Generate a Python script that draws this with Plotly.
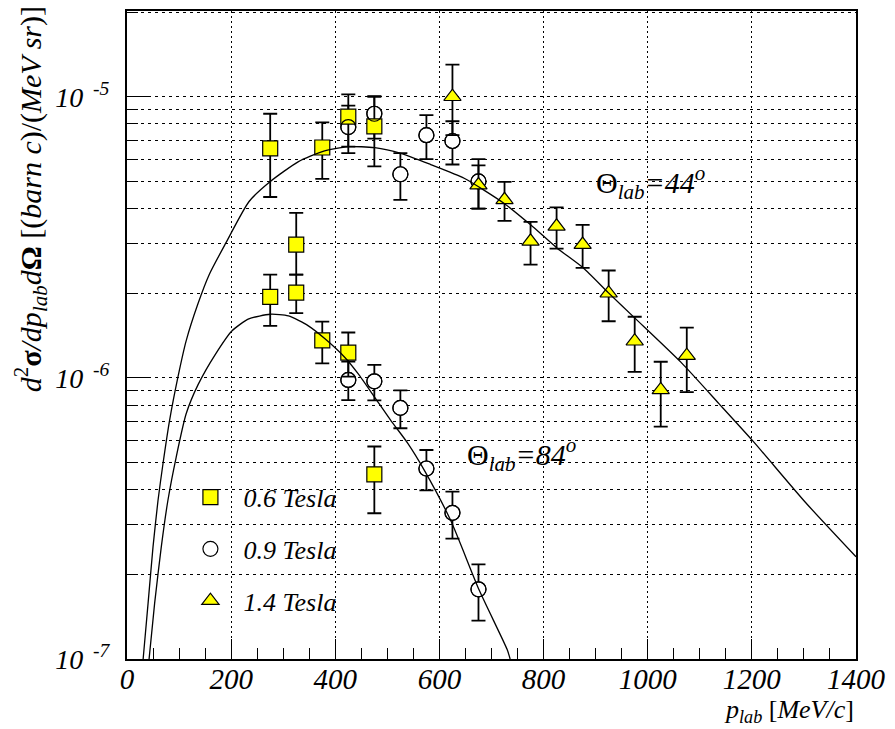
import plotly.graph_objects as go

# ---- measurements: momentum (MeV/c), cross section, errors (up / down) ----
p_06 = [275, 375, 425, 475, 275, 325, 325, 375, 425, 475]
xs_06 = [6.55e-6, 6.6e-6, 8.5e-6, 7.85e-6, 1.94e-6, 2.98e-6, 2.01e-6, 1.36e-6, 1.23e-6, 4.54e-7]
up_06 = [2.15e-6, 1.5e-6, 1.7e-6, 2.15e-6, 0.39e-6, 0.88e-6, 0.32e-6, 0.225e-6, 0.22e-6, 1.16e-7]
dn_06 = [2.15e-6, 1.5e-6, 1.85e-6, 2.2e-6, 0.41e-6, 0.65e-6, 0.31e-6, 0.234e-6, 0.22e-6, 1.24e-7]

p_09 = [425, 475, 525, 575, 625, 675, 425, 475, 525, 575, 625, 675]
xs_09 = [7.8e-6, 8.7e-6, 5.3e-6, 7.3e-6, 6.96e-6, 5.0e-6,
         9.83e-7, 9.72e-7, 7.82e-7, 4.76e-7, 3.31e-7, 1.77e-7]
up_09 = [1.5e-6, 1.35e-6, 1.0e-6, 1.3e-6, 1.22e-6, 1.0e-6,
         1.6e-7, 1.4e-7, 1.2e-7, 7.8e-8, 6.3e-8, 4.0e-8]
dn_09 = [1.5e-6, 1.6e-6, 1.0e-6, 1.3e-6, 1.22e-6, 1.0e-6,
         1.5e-7, 1.4e-7, 1.2e-7, 7.8e-8, 6.3e-8, 4.0e-8]

p_14 = [625, 675, 725, 775, 825, 875, 925, 975, 1025, 1075]
xs_14 = [1.0e-5, 4.85e-6, 4.3e-6, 3.06e-6, 3.46e-6, 2.98e-6, 2.0e-6, 1.35e-6, 9.06e-7, 1.2e-6]
up_14 = [3.0e-6, 0.85e-6, 0.68e-6, 0.53e-6, 0.58e-6, 0.52e-6, 0.41e-6, 0.3e-6, 0.235e-6, 0.31e-6]
dn_14 = [2.7e-6, 0.85e-6, 0.68e-6, 0.53e-6, 0.58e-6, 0.52e-6, 0.41e-6, 0.3e-6, 0.235e-6, 0.31e-6]

# ---- model curves ----
p_44 = [31, 40.5, 50, 59.6, 69.1, 81.7, 97.7, 113.6, 135.9, 158, 189.9, 234.4, 275.2,
        329.3, 375.1, 424.7, 475.7, 525.9, 583.1, 647.5, 723.8, 774.6, 825.5, 876.5,
        924.2, 974.4, 1064.1, 1136.7, 1201, 1302.7, 1400]
xs_44 = [1.0e-7, 1.58e-7, 2.51e-7, 3.67e-7, 4.95e-7, 7.05e-7, 1.004e-6, 1.354e-6, 1.827e-6,
         2.333e-6, 3.02e-6, 4.24e-6, 4.995e-6, 5.88e-6, 6.38e-6, 6.645e-6, 6.59e-6, 6.29e-6,
         5.74e-6, 5.13e-6, 4.18e-6, 3.51e-6, 2.90e-6, 2.46e-6, 2.01e-6, 1.638e-6, 1.135e-6,
         8.1e-7, 5.99e-7, 3.61e-7, 2.31e-7]

p_84 = [42.4, 53.1, 65.9, 78.6, 94.5, 113.6, 136.5, 170.3, 201.4, 233.8, 275.2, 310.1,
        348.3, 380.2, 418.4, 443.8, 475.7, 506.8, 539.3, 571.1, 621.3, 676.1, 730.1, 735.8]
xs_84 = [1.0e-7, 1.58e-7, 2.51e-7, 3.67e-7, 5.23e-7, 7.45e-7, 9.46e-7, 1.218e-6, 1.469e-6,
         1.621e-6, 1.684e-6, 1.661e-6, 1.531e-6, 1.377e-6, 1.182e-6, 1.035e-6, 8.53e-7,
         7.05e-7, 5.85e-7, 4.69e-7, 3.12e-7, 1.762e-7, 1.08e-7, 1.0e-7]

y_major = [1e-7, 1e-6, 1e-5]
y_major_text = ["10<sup>\u00a0\u00a0-7</sup>", "10<sup>\u00a0\u00a0-6</sup>", "10<sup>\u00a0\u00a0-5</sup>"]
y_minor = [m * 10.0 ** e for e in (-7, -6, -5) for m in range(2, 10) if m * 10.0 ** e < 2.02e-5]

SERIF = "Liberation Serif"
YEL = "#ffff00"


def err(up, dn):
    return dict(type="data", symmetric=False, array=up, arrayminus=dn,
                color="black", thickness=1.8, width=7)


fig = go.Figure()

# open circles: white body hides the bar inside the marker
fig.add_trace(go.Scatter(
    x=p_09, y=xs_09, mode="markers", name="\u00a0\u00a00.9 Tesla",
    legendgroup="b", legendrank=2, error_y=err(up_09, dn_09),
    marker=dict(symbol="circle", size=15, color="white",
                line=dict(color="black", width=1.2))))

fig.add_trace(go.Scatter(
    x=p_06, y=xs_06, mode="markers", name="\u00a0\u00a00.6 Tesla",
    legendgroup="a", legendrank=1, error_y=err(up_06, dn_06),
    marker=dict(symbol="square", size=15, color=YEL,
                line=dict(color="black", width=1.2))))

# circle outlines redrawn above the squares
fig.add_trace(go.Scatter(
    x=p_09, y=xs_09, mode="markers", showlegend=False, legendgroup="b",
    hoverinfo="skip",
    marker=dict(symbol="circle-open", size=15, color="black",
                line=dict(color="black", width=1.2))))

fig.add_trace(go.Scatter(
    x=p_14, y=xs_14, mode="markers", name="\u00a0\u00a01.4 Tesla",
    legendgroup="c", legendrank=3, error_y=err(up_14, dn_14),
    marker=dict(symbol="triangle-up", size=15, color=YEL,
                line=dict(color="black", width=1.2))))

for px_, xs_ in ((p_44, xs_44), (p_84, xs_84)):
    fig.add_trace(go.Scatter(
        x=px_, y=xs_, mode="lines", showlegend=False, hoverinfo="skip",
        line=dict(color="black", width=1.3, shape="spline", smoothing=0.6)))

fig.update_xaxes(
    range=[0, 1400], tickmode="linear", tick0=0, dtick=200,
    ticks="inside", ticklen=20, tickwidth=1, tickcolor="black",
    showline=True, mirror=True, linecolor="black", linewidth=2,
    showgrid=True, gridcolor="black", gridwidth=1, griddash="2px,3px",
    zeroline=False,
    minor=dict(dtick=50, ticks="inside", ticklen=11, tickcolor="black",
               tickwidth=1, showgrid=False),
    tickfont=dict(family=SERIF, size=29, color="black", style="italic"),
    ticklabelstandoff=-7)

fig.update_yaxes(
    type="log", range=[-7, -4.695],
    tickmode="array", tickvals=y_major, ticktext=y_major_text,
    ticks="inside", ticklen=22, tickwidth=1, tickcolor="black",
    showline=True, mirror=True, linecolor="black", linewidth=2,
    showgrid=True, gridcolor="black", gridwidth=1, griddash="3px,4px",
    zeroline=False,
    minor=dict(tickmode="array", tickvals=y_minor, ticks="inside", ticklen=11,
               tickcolor="black", tickwidth=1, showgrid=True,
               gridcolor="black", gridwidth=1, griddash="3px,4px"),
    tickfont=dict(family=SERIF, size=28, color="black", style="italic"),
    ticklabelstandoff=10)

annots = [
    dict(text="<i>p</i><sub><i>lab</i></sub> [<i>MeV/c</i>]",
         xref="paper", yref="paper", x=1.0, y=-0.081, xanchor="right", yanchor="middle",
         showarrow=False, font=dict(family=SERIF, size=26, color="black")),
    dict(text="<i>d</i><sup>2</sup><b>\u03c3</b><i>/dp</i><sub><i>lab</i></sub><i>d</i><b>\u03a9</b>"
              " [(<i>barn c</i>)/(<i>MeV sr</i>)]",
         xref="paper", yref="paper", x=-0.132, y=1.01, xanchor="center", yanchor="top",
         textangle=-90, showarrow=False, font=dict(family=SERIF, size=30, color="black")),
    dict(text="\u0398<sub><i>lab</i></sub><i>=44</i><sup><i>o</i></sup>",
         xref="paper", yref="paper", x=0.641, y=0.735, xanchor="left", yanchor="middle",
         showarrow=False, font=dict(family=SERIF, size=30, color="black")),
    dict(text="\u0398<sub><i>lab</i></sub><i>=84</i><sup><i>o</i></sup>",
         xref="paper", yref="paper", x=0.464, y=0.315, xanchor="left", yanchor="middle",
         showarrow=False, font=dict(family=SERIF, size=30, color="black")),
]

fig.update_layout(
    width=895, height=729,
    margin=dict(l=127, r=34, t=9, b=70),
    paper_bgcolor="white", plot_bgcolor="white",
    annotations=annots,
    legend=dict(x=0.087, y=0.286, xanchor="left", yanchor="top",
                bgcolor="rgba(0,0,0,0)", borderwidth=0, tracegroupgap=15,
                font=dict(family=SERIF, size=26, color="black", style="italic")),
)

fig.write_html("out.html")
